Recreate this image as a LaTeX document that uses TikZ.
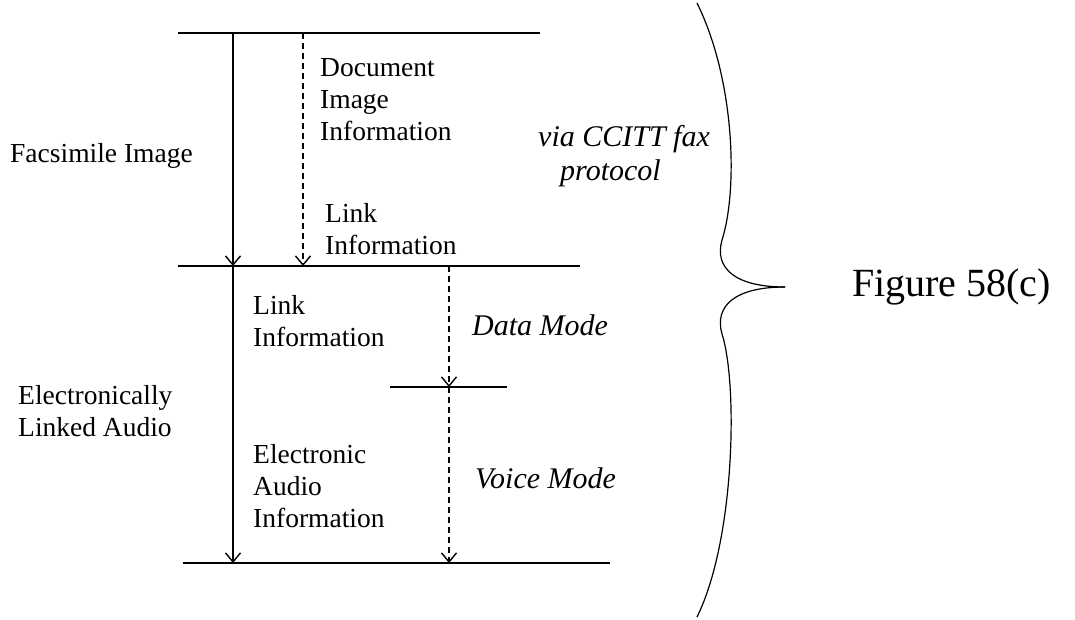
\documentclass[tikz,border=0pt]{standalone}
\usepackage{fontspec}
\setmainfont{Liberation Serif}
\usetikzlibrary{arrows.meta,positioning}
\tikzset{
  fax-rule/.style={draw=black, line width=1.8pt},
  fax-flow/.style={draw=black, line width=1.2pt,
    -{Straight Barb[length=9pt,width=15pt,line width=1.4pt]}},
  fax-dflow/.style={fax-flow, line width=1.1pt, dash pattern=on 6pt off 4pt},
  fax-text/.style={inner sep=0pt, anchor=west, align=left,
    font=\fontsize{27.5}{32}\selectfont},
  fax-mode/.style={fax-text, font=\fontsize{30}{34}\selectfont\itshape},
  fax-brace/.style={draw=black, line width=1.2pt}
}

\begin{document}
\begin{tikzpicture}[x=1pt, y=-1pt]
  \useasboundingbox (0,0) rectangle (1075,619);
  % rules
  \coordinate (top-w) at (178,33);  \coordinate (top-e) at (540,33);
  \coordinate (mid-w) at (178,266); \coordinate (mid-e) at (580,266);
  \coordinate (sub-w) at (390,387); \coordinate (sub-e) at (507,387);
  \coordinate (bot-w) at (183,563); \coordinate (bot-e) at (610,563);
  \draw[fax-rule] (top-w) -- (top-e);
  \draw[fax-rule] (mid-w) -- (mid-e);
  \draw[fax-rule] (sub-w) -- (sub-e);
  \draw[fax-rule] (bot-w) -- (bot-e);
  % flows
  \coordinate (fax-top) at (233,33);  \coordinate (fax-mid) at (233,266);
  \coordinate (fax-bot) at (233,563);
  \coordinate (doc-top) at (303,33);  \coordinate (doc-mid) at (303,266);
  \coordinate (data-top) at (449,266); \coordinate (data-sub) at (449,387);
  \coordinate (voice-bot) at (449,563);
  \draw[fax-flow] (fax-top) -- (fax-mid);
  \draw[fax-flow] (fax-mid) -- (fax-bot);
  \draw[fax-dflow] (doc-top) -- (doc-mid);
  \draw[fax-dflow] (data-top) -- (data-sub);
  \draw[fax-dflow] (data-sub) -- (voice-bot);
  % labels
  \node[fax-text] (facsimile) at (10,156) {Facsimile Image};
  \node[fax-text] (doc-image) at (320,100) {Document\\Image\\Information};
  \node[fax-text] (doc-link) at (325,229) {Link\\Information};
  \node[fax-mode] (ccitt) at (538,156) {via CCITT fax\\\hspace*{22pt}protocol};
  \node[fax-text] (audio-link) at (253,321) {Link\\Information};
  \node[fax-mode] (data-mode) at (472,325) {Data Mode};
  \node[fax-text] (linked) at (18,411) {Electronically\\Linked Audio};
  \node[fax-text] (audio-info) at (253,486) {Electronic\\Audio\\Information};
  \node[fax-mode] (voice-mode) at (475,478) {Voice Mode};
  % brace
  \coordinate (brace-top) at (697,3);
  \coordinate (brace-tip) at (785,287);
  \coordinate (brace-bot) at (697,617);
  \draw[fax-brace] (brace-top) .. controls (735,80) and (738,190) .. (722,240)
    .. controls (714,268) and (735,287) .. (brace-tip);
  \draw[fax-brace] (brace-tip) .. controls (735,287) and (714,306) .. (722,334)
    .. controls (738,384) and (735,540) .. (brace-bot);
  \node[inner sep=0pt, anchor=west, font=\fontsize{40}{44}\selectfont]
    (figure) at (852,287) {Figure 58(c)};
\end{tikzpicture}
\end{document}
